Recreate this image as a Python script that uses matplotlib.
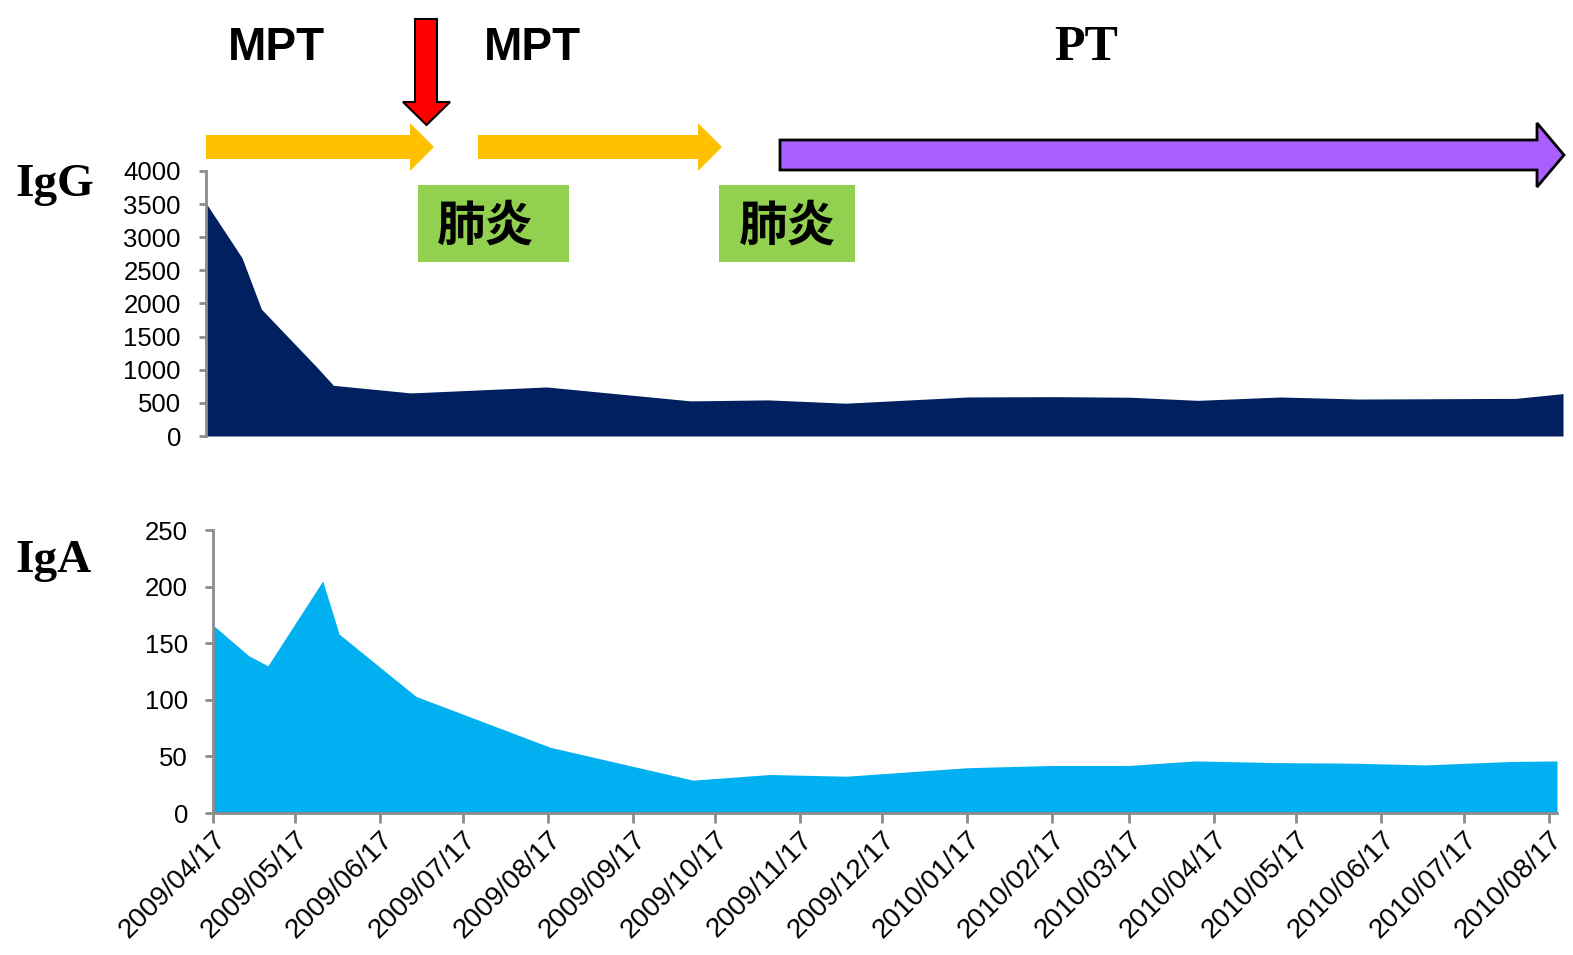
import pandas as pd
import matplotlib.pyplot as plt
import matplotlib.dates as mdates
from matplotlib.patches import Polygon, Rectangle

plt.rcParams['font.family'] = ['Liberation Sans', 'DejaVu Sans']

# Measurement dates and serum levels
dates = pd.to_datetime([
    '2009/04/17', '2009/04/30', '2009/05/07', '2009/05/27', '2009/06/02',
    '2009/06/30', '2009/08/18', '2009/10/09', '2009/11/06', '2009/12/04',
    '2010/01/17', '2010/02/17', '2010/03/17', '2010/04/10', '2010/05/10',
    '2010/06/07', '2010/07/03', '2010/08/03', '2010/08/20'])
igg = [3515, 2690, 1915, 1040, 765, 650, 740, 530, 545, 495,
       589, 594, 585, 538, 589, 558, 562, 568, 640]
iga = [166, 139, 130, 205, 158, 103, 58, 29, 34, 32.5,
       40, 42, 42, 46, 44.5, 44, 42.5, 45.5, 46]
tick_dates = pd.date_range('2009-04-17', periods=17, freq=pd.DateOffset(months=1))

W, H = 1573, 955
fig = plt.figure(figsize=(W / 100, H / 100), dpi=100)


def fx(x):
    return x / W


def fy(y):
    return 1 - y / H


def pix_poly(pts, **kw):
    p = Polygon([(fx(x), fy(y)) for x, y in pts], closed=True,
                transform=fig.transFigure, **kw)
    fig.patches.append(p)


gray = '#8c8c8c'

# IgG panel
ax1 = fig.add_axes([fx(206), fy(436), fx(1563) - fx(206), fy(171) - fy(436)])
ax1.fill_between(dates, igg, 0, color='#002060', lw=0)
ax1.set_xlim(dates[0], dates[-1])
ax1.set_ylim(0, 4000)
ax1.set_yticks(range(0, 4001, 500))
ax1.set_xticks([])
for s in ['top', 'right', 'bottom']:
    ax1.spines[s].set_visible(False)
ax1.spines['left'].set_color(gray)
ax1.spines['left'].set_linewidth(2)
ax1.tick_params(axis='y', colors=gray, labelcolor='black', length=5, width=2,
                labelsize=18.5, pad=13)

# IgA panel
ax2 = fig.add_axes([fx(213), fy(813), fx(1557) - fx(213), fy(530) - fy(813)])
ax2.fill_between(dates, iga, 0, color='#00B0F0', lw=0)
ax2.set_xlim(dates[0], dates[-1])
ax2.set_ylim(0, 250)
ax2.set_yticks(range(0, 251, 50))
ax2.set_xticks(tick_dates)
ax2.xaxis.set_major_formatter(mdates.DateFormatter('%Y/%m/%d'))
for s in ['top', 'right']:
    ax2.spines[s].set_visible(False)
for s in ['left', 'bottom']:
    ax2.spines[s].set_color(gray)
    ax2.spines[s].set_linewidth(2)
ax2.tick_params(axis='y', colors=gray, labelcolor='black', length=6, width=2,
                labelsize=18.5, pad=12)
ax2.tick_params(axis='x', colors=gray, labelcolor='black', length=7, width=2,
                labelsize=20, pad=3)
for lab in ax2.get_xticklabels():
    lab.set_rotation(45)
    lab.set_ha('right')
    lab.set_rotation_mode('anchor')

# Panel titles
serif = ['Liberation Serif', 'DejaVu Serif']
fig.text(fx(15), fy(196), 'IgG', family=serif, weight='bold', size=34, va='baseline')
fig.text(fx(15), fy(572), 'IgA', family=serif, weight='bold', size=34, va='baseline')

# Treatment arrows
orange = '#FFC000'
for x0, x1, tip in [(206, 410, 434), (478, 698, 722)]:
    pix_poly([(x0, 135), (x1, 135), (x1, 123), (tip, 147), (x1, 171),
              (x1, 159), (x0, 159)], facecolor=orange, edgecolor='none')
pix_poly([(780, 140), (1537, 140), (1537, 123), (1564, 155), (1537, 187),
          (1537, 170), (780, 170)], facecolor='#A95EFF', edgecolor='black', lw=2)
pix_poly([(415, 19), (437, 19), (437, 102), (450, 102), (426.5, 125),
          (403, 102), (415, 102)], facecolor='#FF0000', edgecolor='black', lw=1.5)

fig.text(fx(276), fy(60), 'MPT', weight='bold', size=33, ha='center', va='baseline')
fig.text(fx(532), fy(60), 'MPT', weight='bold', size=33, ha='center', va='baseline')
fig.text(fx(1086), fy(60), 'PT', family=serif, weight='bold', size=36,
         ha='center', va='baseline')

# Pneumonia episodes
cjk = ['Noto Sans CJK JP', 'DejaVu Sans']
for x0, x1, tx in [(418, 569, 485), (719, 855, 787)]:
    fig.patches.append(Rectangle((fx(x0), fy(262)), fx(x1) - fx(x0), fy(185) - fy(262),
                                 transform=fig.transFigure, facecolor='#92D050',
                                 edgecolor='none'))
    fig.text(fx(tx), fy(226), '肺炎', family=cjk, weight='bold', size=35,
             ha='center', va='center')

fig.savefig('out.png', dpi=100)
